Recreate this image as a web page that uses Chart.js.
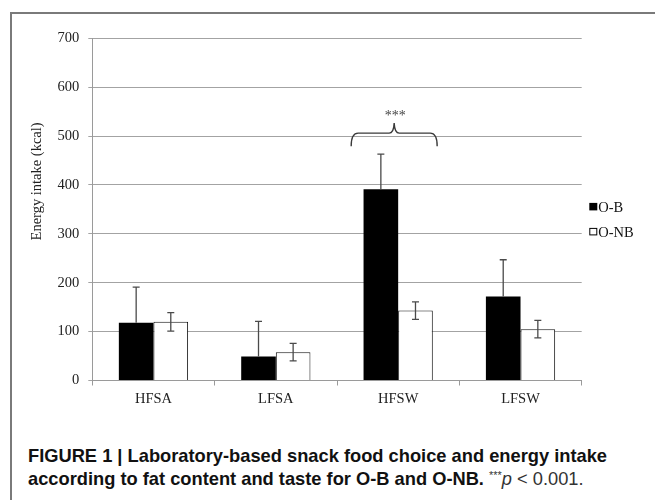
<!DOCTYPE html>
<html><head><meta charset="utf-8">
<script src="https://cdn.jsdelivr.net/npm/chart.js@4.4.1/dist/chart.umd.min.js"></script>
<style>
html,body{margin:0;padding:0;background:#fff;width:655px;height:500px;overflow:hidden;}
#frame{position:absolute;left:10px;top:12px;width:700px;height:600px;border-left:2px solid #7a7a7a;border-top:2px solid #7a7a7a;box-sizing:border-box;}
#wrap{position:absolute;left:0;top:0;width:655px;height:420px;}
#cap{position:absolute;left:28px;top:444px;font-family:"Liberation Sans",Arial,sans-serif;font-size:18.5px;line-height:23px;color:#111;white-space:nowrap;transform-origin:0 0;}
#cap b{font-weight:bold;}
#cap .p{font-weight:normal;color:#333;}
#cap sup{font-size:11px;vertical-align:6px;line-height:0;}
</style></head><body>
<div id="frame"></div>
<div id="wrap"><canvas id="c" width="655" height="420"></canvas></div>
<div id="cap"><div id="l1"><b>FIGURE 1 | Laboratory-based snack food choice and energy intake</b></div><div id="l2"><b>according to fat content and taste for O-B and O-NB.</b> <span class="p"><sup>***</sup><i>p</i> &lt; 0.001.</span></div></div>
<script>
// ---- data ----
const categories = ['HFSA', 'LFSA', 'HFSW', 'LFSW'];
const seriesNames = ['O-B', 'O-NB'];
const obMeans = [118, 49, 391, 172];
const obErr = [73, 72, 72, 75];
const onbMeans = [120, 58, 143, 105];
const onbErr = [19, 18, 18, 18];
const yMin = 0, yMax = 700, yStep = 100;
const yTitle = 'Energy intake (kcal)';
const sigCategory = 'HFSW';
const sigLevel = 506;
const sigLabel = '***';

const serif = '"Liberation Serif", "Times New Roman", serif';
const errs = [obErr, onbErr];
const errUpOnly = [true, false];

const errorBarPlugin = {
  id: 'errbars',
  afterDatasetsDraw(chart) {
    const ctx = chart.ctx, ys = chart.scales.y;
    chart.data.datasets.forEach((ds, i) => {
      const meta = chart.getDatasetMeta(i);
      meta.data.forEach((el, j) => {
        const v = ds.data[j], e = errs[i][j];
        const x = el.x;
        const yt = ys.getPixelForValue(v + e);
        const yb = errUpOnly[i] ? ys.getPixelForValue(v) : ys.getPixelForValue(v - e);
        ctx.save();
        ctx.strokeStyle = '#4a4a4a';
        ctx.lineWidth = 1.3;
        ctx.beginPath();
        ctx.moveTo(x, yt); ctx.lineTo(x, yb);
        ctx.moveTo(x - 3.5, yt); ctx.lineTo(x + 3.5, yt);
        if (!errUpOnly[i]) { ctx.moveTo(x - 3.5, yb); ctx.lineTo(x + 3.5, yb); }
        ctx.stroke();
        ctx.restore();
      });
    });
  }
};

const bracePlugin = {
  id: 'brace',
  afterDatasetsDraw(chart) {
    const ctx = chart.ctx, ys = chart.scales.y, xs = chart.scales.x;
    const idx = categories.indexOf(sigCategory);
    const cx = xs.getPixelForValue(idx) - 4;
    const L = cx - 43, R = cx + 43;
    const y = ys.getPixelForValue(sigLevel);
    ctx.save();
    ctx.strokeStyle = '#3a3a3a';
    ctx.lineWidth = 1.4;
    ctx.beginPath();
    ctx.moveTo(L, y + 13);
    ctx.quadraticCurveTo(L, y, L + 7, y);
    ctx.lineTo(cx - 5, y);
    ctx.quadraticCurveTo(cx - 0.5, y, cx, y - 10);
    ctx.quadraticCurveTo(cx + 0.5, y, cx + 5, y);
    ctx.lineTo(R - 7, y);
    ctx.quadraticCurveTo(R, y, R, y + 13);
    ctx.stroke();
    ctx.fillStyle = '#444';
    ctx.font = '14px ' + serif;
    ctx.textAlign = 'center';
    ctx.textBaseline = 'middle';
    ctx.fillText(sigLabel, cx + 1, y - 17);
    ctx.restore();
  }
};

const yTitlePlugin = {
  id: 'ytitle',
  afterDraw(chart) {
    const ctx = chart.ctx, a = chart.chartArea;
    ctx.save();
    ctx.translate(a.left - 55, (a.top + a.bottom) / 2 - 28);
    ctx.rotate(-Math.PI / 2);
    ctx.font = '14.5px ' + serif;
    ctx.fillStyle = '#222';
    ctx.textAlign = 'center';
    ctx.textBaseline = 'middle';
    ctx.fillText(yTitle, 0, 0);
    ctx.restore();
  }
};

const legendPlugin = {
  id: 'sideLegend',
  afterDraw(chart) {
    const ctx = chart.ctx, a = chart.chartArea;
    const mid = (a.top + a.bottom) / 2;
    const x = a.right + 7.6;
    ctx.save();
    ctx.font = '14.5px ' + serif;
    ctx.textBaseline = 'middle';
    chart.data.datasets.forEach((ds, i) => {
      const yc = mid - 3 + i * 25;
      ctx.fillStyle = ds.backgroundColor;
      ctx.fillRect(x, yc - 3.5, 8, 7.5);
      ctx.strokeStyle = '#000';
      ctx.lineWidth = 1;
      if (ds.borderWidth) ctx.strokeRect(x + 0.5, yc - 3, 7, 6.5);
      ctx.fillStyle = '#111';
      ctx.textAlign = 'left';
      ctx.fillText(ds.label, x + 9, yc + 2);
    });
    ctx.restore();
  }
};

new Chart(document.getElementById('c'), {
  type: 'bar',
  data: {
    labels: categories,
    datasets: [
      { label: seriesNames[0], data: obMeans, backgroundColor: '#000', borderColor: '#000', borderWidth: 0 },
      { label: seriesNames[1], data: onbMeans, backgroundColor: '#fff', borderColor: '#111', borderWidth: 1 }
    ]
  },
  options: {
    responsive: false,
    animation: false,
    events: [],
    layout: { padding: { left: 0, right: 73.3, top: 38.3, bottom: 0 } },
    datasets: { bar: { barPercentage: 1.0, categoryPercentage: 0.566 } },
    plugins: { legend: { display: false }, tooltip: { enabled: false }, title: { display: false } },
    scales: {
      x: {
        grid: { display: true, drawOnChartArea: false, drawTicks: true, tickLength: 5, color: '#9a9a9a', offset: true },
        border: { display: true, color: '#9a9a9a', width: 1 },
        ticks: { font: { family: serif, size: 14.5 }, color: '#222', padding: 5, maxRotation: 0 },
        afterFit(s) { s.height = 39.5; }
      },
      y: {
        min: yMin, max: yMax,
        grid: { color: '#a3a3a3', lineWidth: 1, tickLength: 4, drawTicks: true },
        border: { display: true, color: '#9a9a9a', width: 1 },
        ticks: { stepSize: yStep, font: { family: serif, size: 14.5 }, color: '#222', padding: 9 },
        afterFit(s) { s.width = 92.3; }
      }
    }
  },
  plugins: [errorBarPlugin, bracePlugin, yTitlePlugin, legendPlugin]
});

// fit caption to reference width
(function () {
  const cap = document.getElementById('cap');
  const l1 = document.getElementById('l1').firstChild;
  const w = l1.getBoundingClientRect().width;
  const k = 579 / w;
  cap.style.transform = 'scaleX(' + k + ')';
})();
</script>
</body></html>
